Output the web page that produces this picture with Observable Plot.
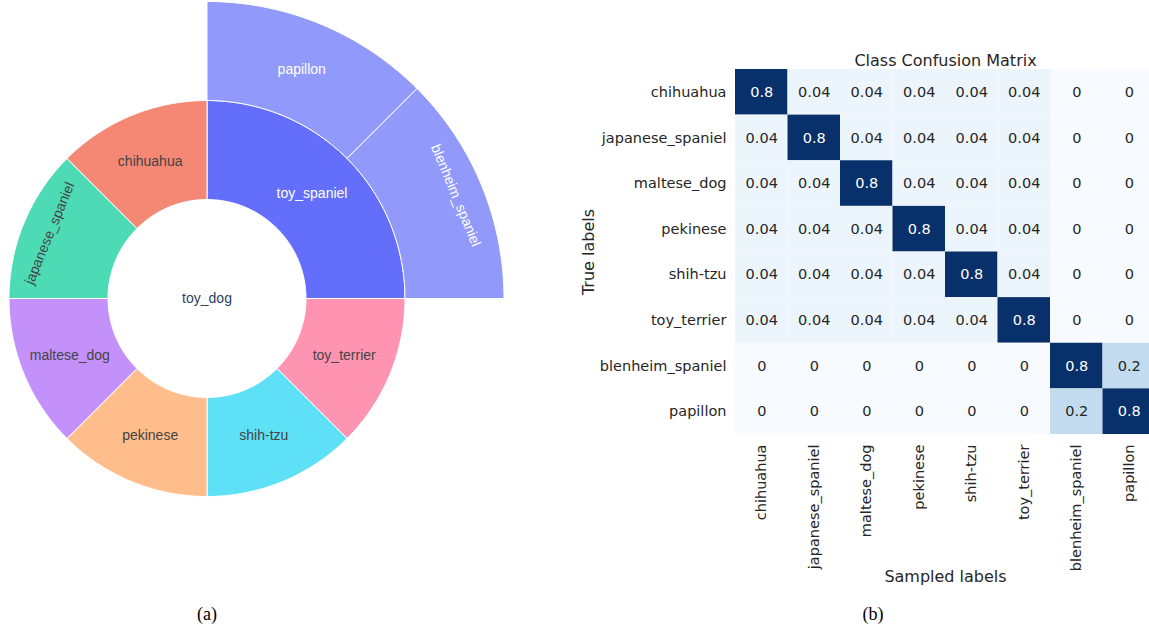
<!DOCTYPE html>
<html><head><meta charset="utf-8">
<script src="https://cdn.jsdelivr.net/npm/d3@7"></script>
<script src="https://cdn.jsdelivr.net/npm/@observablehq/plot@0.6"></script>
<style>
html,body{margin:0;padding:0;background:#fff;}
#page{position:relative;width:1149px;height:629px;overflow:hidden;background:#fff;}
#sun{position:absolute;left:0;top:0;width:515px;height:600px;}
#cm{position:absolute;left:560px;top:0;width:600px;height:600px;}
#page svg{max-width:none !important;display:block;}
.cap{position:absolute;top:604px;font-family:"Liberation Serif","Times New Roman",serif;font-size:18px;color:#000;transform:translateX(-50%);}
</style></head><body>
<div id="page"><div id="sun"></div><div id="cm"></div>
<div class="cap" style="left:207px">(a)</div><div class="cap" style="left:873px">(b)</div></div>
<script>
// ---- (a) sunburst hierarchy ----
const nodeNames   = ["toy_dog","toy_spaniel","toy_terrier","shih-tzu","pekinese","maltese_dog","japanese_spaniel","chihuahua","papillon","blenheim_spaniel"];
const nodeParents = ["","toy_dog","toy_dog","toy_dog","toy_dog","toy_dog","toy_dog","toy_dog","toy_spaniel","toy_spaniel"];
const nodeCounts  = [0,0,1,1,1,1,1,1,1,1];
const branchOrder   = ["toy_spaniel","chihuahua","japanese_spaniel","maltese_dog","pekinese","shih-tzu","toy_terrier"];
const branchPalette = ["#636efa","#EF553B","#00cc96","#ab63fa","#FFA15A","#19d3f3","#FF6692"];
const tangentialLabels = ["japanese_spaniel","blenheim_spaniel"];

// ---- (b) confusion matrix ----
const classes = ["chihuahua","japanese_spaniel","maltese_dog","pekinese","shih-tzu","toy_terrier","blenheim_spaniel","papillon"];
const matrixRows = [
  [0.8,0.04,0.04,0.04,0.04,0.04,0,0],
  [0.04,0.8,0.04,0.04,0.04,0.04,0,0],
  [0.04,0.04,0.8,0.04,0.04,0.04,0,0],
  [0.04,0.04,0.04,0.8,0.04,0.04,0,0],
  [0.04,0.04,0.04,0.04,0.8,0.04,0,0],
  [0.04,0.04,0.04,0.04,0.04,0.8,0,0],
  [0,0,0,0,0,0,0.8,0.2],
  [0,0,0,0,0,0,0.2,0.8]
];

// build sunburst
const table = nodeNames.map((name,i)=>({name, parent: nodeParents[i] || null, count: nodeCounts[i]}));
const root = d3.stratify().id(d=>d.name).parentId(d=>d.parent)(table);
root.sum(d=>d.count);
d3.partition().size([2*Math.PI, root.height+1])(root);
const segs = root.descendants().filter(d=>d.depth>0);
const branchOf = d => d.ancestors().find(a=>a.depth===1).data.name;
const pts = [];
for (const d of segs) {
  const n = Math.max(8, Math.ceil((d.x1-d.x0)/(Math.PI/180)));
  const ring = [];
  for (let k=0;k<=n;k++){ const a=d.x0+(d.x1-d.x0)*k/n; ring.push([d.y1*Math.sin(a), d.y1*Math.cos(a)]); }
  for (let k=n;k>=0;k--){ const a=d.x0+(d.x1-d.x0)*k/n; ring.push([d.y0*Math.sin(a), d.y0*Math.cos(a)]); }
  ring.push(ring[0]);
  const branch = branchOf(d), alpha = d.children ? 1 : 0.7;
  for (const [px,py] of ring) pts.push({id:d.data.name, branch, alpha, px, py});
}
const labels = root.descendants().map(d=>{
  if (d.depth===0) return {name:d.data.name, lx:0, ly:0, rot:0, root:true, white:false};
  const am = (d.x0+d.x1)/2;
  const tang = tangentialLabels.includes(d.data.name);
  const r = tang ? d.y0+0.72*(d.y1-d.y0) : (d.y0+d.y1)/2;
  let rot = 0;
  if (tang) { rot = am*180/Math.PI; if (rot>90) rot-=180; if (rot>90) rot-=180; if (rot<-90) rot+=180; }
  return {name:d.data.name, lx:r*Math.sin(am), ly:r*Math.cos(am), rot, root:false, white: branchOf(d)==="toy_spaniel"};
});
const W=515, H=600, U=99, cx=206.5, cy=298;
const sun = Plot.plot({
  width:W, height:H, margin:0,
  style:{fontFamily:"'Liberation Sans', Arial, sans-serif", fontSize:"14px", background:"#fff"},
  x:{domain:[-cx/U,(W-cx)/U], axis:null},
  y:{domain:[-(H-cy)/U, cy/U], axis:null},
  color:{domain:branchOrder, range:branchPalette},
  opacity:{type:"identity"},
  marks:[
    Plot.line(pts,{x:"px",y:"py",z:"id",fill:"branch",fillOpacity:"alpha",stroke:"white",strokeWidth:1,curve:"linear"}),
    Plot.text(labels.filter(d=>!d.white && !d.root),{x:"lx",y:"ly",text:"name",rotate:"rot",fill:"#444",fontSize:14}),
    Plot.text(labels.filter(d=>d.white),{x:"lx",y:"ly",text:"name",rotate:"rot",fill:"white",fontSize:14}),
    Plot.text(labels.filter(d=>d.root),{x:"lx",y:"ly",text:"name",fill:"#2a3f5f",fontSize:14})
  ]
});
document.getElementById("sun").appendChild(sun);

// build confusion matrix
const cells = [];
classes.forEach((t,i)=>classes.forEach((p,j)=>cells.push({t,p,v:matrixRows[i][j]})));
const cm = Plot.plot({
  width:600, height:600, marginLeft:175, marginRight:5, marginTop:69, marginBottom:166,
  style:{fontFamily:"'DejaVu Sans', sans-serif", fontSize:"14.5px", color:"#262626", background:"#fff"},
  x:{domain:classes, padding:0, round:false, label:null, tickSize:0, tickPadding:10, tickRotate:-90},
  y:{domain:classes, padding:0, round:false, label:null, tickSize:0, tickPadding:9},
  color:{scheme:"blues", domain:[0,0.8]},
  marks:[
    Plot.cell(cells,{x:"p",y:"t",fill:"v",inset:0}),
    Plot.text(cells.filter(d=>d.v>=0.4),{x:"p",y:"t",text:d=>String(d.v),fill:"white",fontSize:14.5}),
    Plot.text(cells.filter(d=>d.v<0.4),{x:"p",y:"t",text:d=>String(d.v),fill:"#262626",fontSize:14.5}),
    Plot.text(["Class Confusion Matrix"],{frameAnchor:"top",dy:-15,fontSize:16,fill:"#262626"}),
    Plot.text(["True labels"],{frameAnchor:"left",dx:-147,rotate:-90,textAnchor:"middle",fontSize:16,fill:"#262626"}),
    Plot.text(["Sampled labels"],{frameAnchor:"bottom",dy:147,fontSize:16,fill:"#262626"})
  ]
});
document.getElementById("cm").appendChild(cm);
</script>
</body></html>
